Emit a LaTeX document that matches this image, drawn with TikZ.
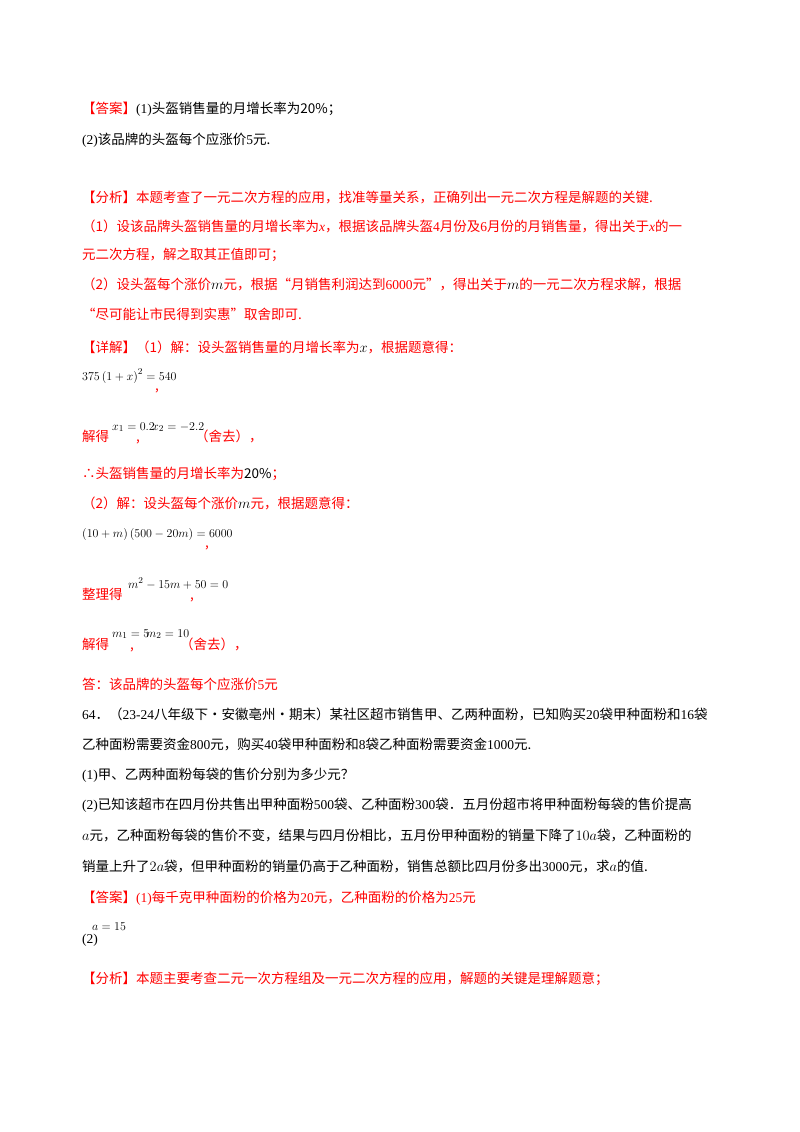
\documentclass[tikz,border=0pt]{standalone}
\usepackage{fontspec}
\setmainfont{Noto Sans CJK SC}
\newfontfamily\lat{Liberation Serif}
\begin{document}
\begin{tikzpicture}[x=1pt,y=-1pt,
  t/.style={anchor=base west,inner sep=0pt,font=\fontsize{13.5}{16}\selectfont},
  r/.style={t,text=red},
  m/.style={t,font=\fontsize{13}{16}\selectfont}]
\useasboundingbox[fill=white] (0,0) rectangle (800,1132);
\node[r] (a1) at (82,113) {【答案】\textcolor{black}{\lat(1)}\textcolor{black}{头盔销售量的月增长率为}\textcolor{black}{$\mathrm{20\%}$}\textcolor{black}{；}};
\node[t] (a2) at (82,144) {{\lat(2)}该品牌的头盔每个应涨价{\lat 5}元.};
\node[r] (f1) at (82,202) {【分析】本题考查了一元二次方程的应用，找准等量关系，正确列出一元二次方程是解题的关键.};
\node[r] (f2) at (82,231) {（1）设该品牌头盔销售量的月增长率为{\lat\itshape x}，根据该品牌头盔{\lat 4}月份及{\lat 6}月份的月销售量，得出关于{\lat\itshape x}的一};
\node[r] (f3) at (82,259) {元二次方程，解之取其正值即可；};
\node[r] (f4) at (82,289) {（2）设头盔每个涨价\textcolor{black}{$m$}元，根据“月销售利润达到{\lat 6000}元”，得出关于\textcolor{black}{$m$}的一元二次方程求解，根据};
\node[r] (f5) at (82,319) {“尽可能让市民得到实惠”取舍即可.};
\node[r] (d1) at (82,352) {【详解】（1）解：设头盔销售量的月增长率为\textcolor{black}{$x$}，根据题意得：};
\node[m] (e1) at (82,380) {$375\left(1+x\right)^2=540$};
\node[r] (e1c) at (155,390) {,};
\node[r] (s1) at (82,441) {解得};
\node[m] (s1a) at (112,430) {$x_1=0.2$};
\node[r] (s1b) at (136,441) {,};
\node[m] (s1c) at (152,430) {$x_2=-2.2$};
\node[r] (s1d) at (195,441) {（舍去），};
\node[r] (s2) at (82,478) {∴头盔销售量的月增长率为\textcolor{black}{$\mathrm{20\%}$}；};
\node[r] (s3) at (82,508) {（2）解：设头盔每个涨价\textcolor{black}{$m$}元，根据题意得：};
\node[m] (e2) at (82,537) {$\left(10+m\right)\left(500-20m\right)=6000$};
\node[r] (e2c) at (205,547) {,};
\node[r] (s4) at (82,599) {整理得};
\node[m] (s4a) at (128,588) {$m^2-15m+50=0$};
\node[r] (s4b) at (190,599) {,};
\node[r] (s5) at (82,649) {解得};
\node[m] (s5a) at (112,637) {$m_1=5$};
\node[r] (s5b) at (130,649) {,};
\node[m] (s5c) at (146,637) {$m_2=10$};
\node[r] (s5d) at (180,649) {（舍去），};
\node[r] (s6) at (82,689) {答：该品牌的头盔每个应涨价{\lat 5}元};
\node[t] (p1) at (82,719) {{\lat 64}．（{\lat 23-24}八年级下·安徽亳州·期末）某社区超市销售甲、乙两种面粉，已知购买{\lat 20}袋甲种面粉和{\lat 16}袋};
\node[t] (p2) at (82,749) {乙种面粉需要资金{\lat 800}元，购买{\lat 40}袋甲种面粉和{\lat 8}袋乙种面粉需要资金{\lat 1000}元.};
\node[t] (p3) at (82,779) {{\lat(1)}甲、乙两种面粉每袋的售价分别为多少元？};
\node[t] (p4) at (82,809) {{\lat(2)}已知该超市在四月份共售出甲种面粉{\lat 500}袋、乙种面粉{\lat 300}袋．五月份超市将甲种面粉每袋的售价提高};
\node[t] (p5) at (82,840) {$a$元，乙种面粉每袋的售价不变，结果与四月份相比，五月份甲种面粉的销量下降了$10a$袋，乙种面粉的};
\node[t] (p6) at (82,871) {销量上升了$2a$袋，但甲种面粉的销量仍高于乙种面粉，销售总额比四月份多出{\lat 3000}元，求$a$的值.};
\node[r] (b1) at (82,902) {【答案】{\lat(1)}每千克甲种面粉的价格为{\lat 20}元，乙种面粉的价格为{\lat 25}元};
\node[m] (b2) at (92,930) {$a=15$};
\node[t] (b3) at (82,943) {\lat(2)};
\node[r] (b4) at (82,983) {【分析】本题主要考查二元一次方程组及一元二次方程的应用，解题的关键是理解题意；};
\end{tikzpicture}
\end{document}
